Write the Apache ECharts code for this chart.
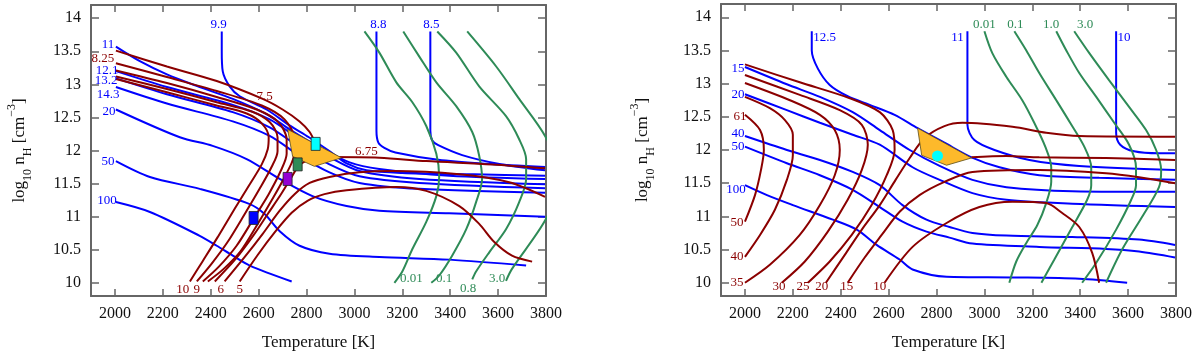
<!DOCTYPE html>
<html><head><meta charset="utf-8">
<script src="https://cdn.jsdelivr.net/npm/echarts@6/dist/echarts.min.js"></script>
<style>html,body{margin:0;padding:0;background:#fff}#c{width:1200px;height:356px}</style>
</head><body><div id="c"></div>
<script>
// ===== Data: points are [Temperature (K), log10 nH] =====
// ---- Left panel: blue contours ----
const L_b99  = [[2446,13.80],[2446,13.50],[2450,13.20],[2479,12.97],[2521,12.82],[2633,12.62],[2729,12.38],[2810,12.20],[2900,11.98],[2970,11.80],[3050,11.70],[3200,11.66],[3500,11.64],[3796,11.62]];
const L_b88  = [[3092,13.80],[3092,12.30],[3100,12.12],[3125,12.04],[3171,11.97],[3350,11.86],[3550,11.80],[3796,11.75]];
const L_b85  = [[3317,13.80],[3317,12.30],[3325,12.15],[3350,12.08],[3450,11.93],[3600,11.80],[3796,11.70]];
const L_b11  = [[2004,13.57],[2104,13.35],[2217,13.15],[2354,12.96],[2492,12.78],[2633,12.55],[2729,12.32],[2854,12.05],[2980,11.82],[3104,11.72],[3396,11.62],[3796,11.57]];
const L_b121 = [[2004,13.20],[2217,12.96],[2492,12.69],[2646,12.47],[2771,12.17],[2896,11.90],[3021,11.69],[3271,11.57],[3796,11.49]];
const L_b132 = [[2004,13.09],[2217,12.85],[2492,12.58],[2646,12.35],[2771,12.05],[2896,11.79],[3021,11.61],[3271,11.51],[3796,11.43]];
const L_b143 = [[2004,12.96],[2217,12.71],[2492,12.44],[2646,12.22],[2771,11.92],[2896,11.67],[3021,11.51],[3271,11.42],[3796,11.36]];
const L_b20  = [[2004,12.62],[2271,12.20],[2408,12.07],[2550,11.87],[2688,11.57],[2825,11.31],[2967,11.16],[3104,11.09],[3396,11.05],[3796,11.00]];
const L_b50  = [[2004,11.84],[2146,11.60],[2354,11.42],[2563,11.19],[2625,11.04],[2688,10.78],[2771,10.56],[2896,10.44],[3104,10.39],[3396,10.35],[3717,10.26]];
const L_b100 = [[2004,11.22],[2146,11.07],[2354,10.71],[2425,10.56],[2492,10.41],[2563,10.26],[2738,10.02]];
// ---- Left panel: green contours ----
const L_g001 = [[3042,13.80],[3104,13.48],[3175,13.03],[3242,12.73],[3300,12.37],[3342,11.95],[3354,11.60],[3342,11.31],[3300,10.92],[3242,10.51],[3200,10.17],[3167,10.00]];
const L_g01  = [[3204,13.80],[3271,13.42],[3342,13.03],[3425,12.67],[3492,12.28],[3521,11.92],[3533,11.57],[3508,11.22],[3467,10.81],[3408,10.41],[3354,10.11],[3321,10.00]];
const L_g08  = [[3346,13.80],[3425,13.48],[3521,12.97],[3633,12.52],[3688,12.17],[3717,11.87],[3717,11.57],[3688,11.22],[3633,10.81],[3563,10.46],[3508,10.17],[3492,10.05]];
const L_g30  = [[3471,13.80],[3592,13.27],[3688,12.78],[3796,12.22],[3870,11.60],[3796,10.94],[3658,10.21],[3633,10.03]];
// ---- Left panel: dark red contours ----
const L_r75  = [[2004,13.51],[2217,13.27],[2425,13.05],[2617,12.78],[2700,12.62],[2771,12.44],[2813,12.28],[2838,12.10]];
const L_rA   = [[2004,13.32],[2217,13.11],[2425,12.90],[2613,12.68],[2708,12.47],[2750,12.17],[2746,11.90],[2713,11.63],[2663,11.30],[2596,10.89],[2525,10.48],[2454,10.21],[2388,10.02]];
const L_rB   = [[2004,13.21],[2217,13.02],[2425,12.81],[2592,12.62],[2679,12.44],[2717,12.17],[2717,11.95],[2692,11.69],[2642,11.34],[2579,10.97],[2508,10.56],[2433,10.24],[2367,10.02]];
const L_rC   = [[2004,13.12],[2217,12.93],[2425,12.73],[2571,12.59],[2646,12.43],[2679,12.20],[2679,11.99],[2654,11.75],[2604,11.42],[2542,11.04],[2471,10.62],[2404,10.29],[2342,10.02]];
const L_rD   = [[2004,13.08],[2217,12.88],[2425,12.68],[2550,12.56],[2613,12.41],[2642,12.20],[2638,12.02],[2613,11.79],[2563,11.49],[2500,11.12],[2429,10.69],[2367,10.33],[2313,10.02]];
const L_r6   = [[2417,10.02],[2504,10.36],[2579,10.72],[2638,11.04],[2692,11.33],[2733,11.57],[2771,11.78],[2821,11.87],[2896,11.90],[3104,11.89],[3300,11.84],[3575,11.79],[3796,11.73]];
const L_rM   = [[2458,10.02],[2542,10.39],[2617,10.74],[2688,11.09],[2750,11.34],[2813,11.51],[2896,11.60],[3021,11.67],[3158,11.69],[3438,11.64],[3646,11.52],[3796,11.30]];
const L_r5   = [[2521,10.02],[2596,10.42],[2671,10.78],[2738,11.06],[2804,11.24],[2875,11.34],[2967,11.40],[3175,11.45],[3300,11.39],[3438,11.16],[3521,10.89],[3583,10.62],[3658,10.41],[3742,10.32]];
// ---- Left panel: region and observed points ----
const L_poly   = [[2721,12.32],[2946,11.89],[2833,11.76],[2742,11.91]];
const L_cyan   = [[2838,12.10]];
const L_green  = [[2763,11.79]];
const L_purple = [[2721,11.57]];
const L_blueSq = [[2579,10.98]];
// ---- Left panel: contour labels [T, logn, text] ----
const L_blueLabels  = [[2433,13.91,'9.9'],[3100,13.91,'8.8'],[3321,13.91,'8.5'],[1971,13.60,'11'],[1967,13.21,'12.1'],[1963,13.06,'13.2'],[1971,12.85,'14.3'],[1975,12.59,'20'],[1971,11.84,'50'],[1967,11.24,'100']];
const L_redLabels   = [[1950,13.39,'8.25'],[2625,12.81,'7.5'],[3050,11.99,'6.75'],[2283,9.89,'10'],[2342,9.89,'9'],[2442,9.89,'6'],[2521,9.89,'5']];
const L_greenLabels = [[3238,10.06,'0.01'],[3375,10.06,'0.1'],[3475,9.91,'0.8'],[3596,10.06,'3.0']];

// ---- Right panel: blue contours ----
const R_b10  = [[3550,13.79],[3550,12.26],[3567,12.08],[3625,11.98],[3729,11.95],[3796,11.95]];
const R_b11  = [[2929,13.79],[2929,12.38],[2958,12.15],[3042,12.00],[3188,11.85],[3396,11.76],[3796,11.70]];
const R_b125 = [[2279,13.79],[2279,13.50],[2304,13.23],[2354,12.98],[2429,12.81],[2521,12.68],[2625,12.53],[2721,12.33],[2833,12.11],[2946,11.89],[3063,11.74],[3229,11.62],[3479,11.58],[3796,11.55]];
const R_b15  = [[2000,13.25],[2175,12.99],[2313,12.80],[2450,12.57],[2563,12.30],[2688,12.00],[2813,11.76],[2950,11.55],[3092,11.44],[3367,11.38],[3796,11.37]];
const R_b20  = [[2000,12.84],[2175,12.60],[2313,12.41],[2450,12.23],[2563,12.08],[2700,11.74],[2813,11.55],[2950,11.35],[3092,11.25],[3367,11.19],[3796,11.14]];
const R_b40  = [[2000,12.21],[2175,12.00],[2313,11.85],[2450,11.67],[2563,11.47],[2658,11.17],[2758,10.95],[2854,10.84],[2950,10.75],[3092,10.71],[3367,10.69],[3646,10.65],[3796,10.57]];
const R_b50  = [[2000,12.05],[2175,11.80],[2313,11.62],[2450,11.40],[2563,11.14],[2658,10.92],[2758,10.77],[2854,10.68],[2950,10.59],[3229,10.54],[3508,10.51],[3646,10.47],[3796,10.38]];
const R_b100 = [[2000,11.47],[2092,11.32],[2200,11.17],[2367,10.95],[2467,10.80],[2550,10.57],[2646,10.35],[2700,10.20],[2842,10.09],[3117,10.08],[3396,10.06],[3596,10.00]];
// ---- Right panel: green contours ----
const R_g001 = [[3000,13.79],[3033,13.46],[3092,13.10],[3158,12.75],[3208,12.41],[3254,12.05],[3279,11.74],[3279,11.52],[3258,11.20],[3221,10.87],[3175,10.60],[3133,10.32],[3104,10.00]];
const R_g01  = [[3125,13.79],[3175,13.50],[3229,13.16],[3300,12.75],[3358,12.41],[3417,12.05],[3446,11.74],[3446,11.47],[3429,11.25],[3367,10.84],[3292,10.35],[3238,10.00]];
const R_g10  = [[3300,13.79],[3342,13.50],[3396,13.16],[3467,12.80],[3542,12.41],[3604,12.08],[3633,11.74],[3633,11.47],[3613,11.25],[3550,10.80],[3467,10.30],[3408,10.00]];
const R_g30  = [[3375,13.79],[3438,13.46],[3521,13.05],[3604,12.65],[3675,12.30],[3717,12.00],[3738,11.70],[3729,11.44],[3658,10.99],[3575,10.50],[3508,10.00]];
// ---- Right panel: dark red contours ----
const R_r61  = [[2000,12.53],[2063,12.30],[2079,12.00],[2067,11.70],[2042,11.32],[2000,10.92]];
const R_rC97 = [[2000,12.80],[2104,12.63],[2167,12.45],[2200,12.23],[2200,11.92],[2175,11.55],[2125,11.10],[2063,10.72],[2000,10.39]];
const R_rC83 = [[2000,13.01],[2188,12.75],[2313,12.53],[2375,12.30],[2396,12.00],[2375,11.62],[2313,11.17],[2229,10.72],[2104,10.27],[2000,10.00]];
const R_rC75 = [[2000,13.13],[2229,12.83],[2396,12.60],[2488,12.38],[2513,12.08],[2488,11.70],[2429,11.25],[2346,10.77],[2250,10.32],[2154,10.00]];
const R_rC64 = [[2000,13.29],[2229,13.02],[2438,12.78],[2563,12.57],[2617,12.30],[2625,12.00],[2592,11.62],[2529,11.17],[2446,10.72],[2354,10.32],[2263,10.00]];
const R_r20  = [[2338,10.00],[2417,10.42],[2488,10.80],[2563,11.17],[2629,11.55],[2688,11.88],[2750,12.18],[2833,12.36],[2908,12.41],[3117,12.35],[3258,12.26],[3396,12.21],[3796,12.20]];
const R_rTip = [[2946,11.89],[3092,11.91],[3229,11.89],[3508,11.88],[3796,11.85]];
const R_r15  = [[2429,10.00],[2500,10.38],[2571,10.72],[2646,11.07],[2729,11.32],[2833,11.52],[2950,11.67],[3229,11.70],[3508,11.65],[3646,11.59],[3796,11.50]];
const R_r10  = [[2583,10.00],[2700,10.54],[2842,10.90],[2979,11.14],[3117,11.22],[3258,11.20],[3325,11.05],[3396,10.84],[3450,10.45],[3479,10.00]];
// ---- Right panel: region and observed point ----
const R_poly   = [[2721,12.33],[2946,11.88],[2842,11.77],[2738,11.92]];
const R_circle = [[2804,11.91]];
// ---- Right panel: contour labels ----
const R_blueLabels  = [[2333,13.70,'12.5'],[1971,13.23,'15'],[1971,12.84,'20'],[1971,12.24,'40'],[1971,12.05,'50'],[1963,11.40,'100'],[2888,13.70,'11'],[3583,13.70,'10']];
const R_greenLabels = [[3000,13.89,'0.01'],[3129,13.89,'0.1'],[3279,13.89,'1.0'],[3421,13.89,'3.0']];
const R_redLabels   = [[1979,12.50,'61'],[1967,10.90,'50'],[1967,10.39,'40'],[1967,10.00,'35'],[2142,9.94,'30'],[2242,9.94,'25'],[2321,9.94,'20'],[2425,9.94,'15'],[2563,9.94,'10']];

// ---- Axis ranges ----
const X_MIN = 1900, X_MAX = 3800, Y_MIN = 9.8, Y_MAX = 14.2;

// ===== Chart =====
const SERIF = '"Liberation Serif","DejaVu Serif",serif';
const BLUE = '#0000ff', RED = '#8b0000', GREEN = '#2e8b57', AX = '#666';

function xAx(gi, pos, main) {
  return {
    type: 'value', gridIndex: gi, position: pos, min: X_MIN, max: X_MAX,
    splitNumber: 9, minInterval: 200, maxInterval: 200,
    axisLine: { show: true, onZero: false, lineStyle: { color: AX, width: 2 } },
    axisTick: { show: true, inside: true, length: 7, lineStyle: { color: AX, width: 1.5 } },
    axisLabel: { show: main, showMinLabel: false, margin: 10, color: '#111', fontFamily: SERIF, fontSize: 16,
      formatter: v => String(v) },
    splitLine: { show: false },
    name: main ? 'Temperature [K]' : '', nameLocation: 'middle', nameGap: 38,
    nameTextStyle: { fontFamily: SERIF, fontSize: 17, color: '#111' }
  };
}
function yAx(gi, pos, main, gap) {
  return {
    type: 'value', gridIndex: gi, position: pos, min: Y_MIN, max: Y_MAX,
    splitNumber: 9, minInterval: 0.5, maxInterval: 0.5,
    axisLine: { show: true, onZero: false, lineStyle: { color: AX, width: 2 } },
    axisTick: { show: true, inside: true, length: 8, lineStyle: { color: AX, width: 1.5 } },
    axisLabel: { show: main, showMinLabel: false, showMaxLabel: false, margin: 10, color: '#111', fontFamily: SERIF, fontSize: 16,
      formatter: v => String(v) },
    splitLine: { show: false },
    name: main ? 'log{sub|10} n{sub|H} [cm{sup|−3}]' : '', nameLocation: 'middle', nameRotate: 90, nameGap: gap,
    nameTextStyle: {
      fontFamily: SERIF, fontSize: 17, color: '#111', lineHeight: 28,
      rich: {
        sub: { fontFamily: SERIF, fontSize: 12, color: '#111', lineHeight: 12, verticalAlign: 'bottom' },
        sup: { fontFamily: SERIF, fontSize: 12, color: '#111', lineHeight: 12, verticalAlign: 'top' }
      }
    }
  };
}

function line(data, color, gi) {
  return { type: 'line', xAxisIndex: gi * 2, yAxisIndex: gi * 2, data: data, symbol: 'none', showSymbol: false,
    smooth: 0.3, clip: true, lineStyle: { color: color, width: 2 }, z: 2, silent: true };
}
function labels(arr, color, gi) {
  return { type: 'scatter', xAxisIndex: gi * 2, yAxisIndex: gi * 2, symbolSize: 1, clip: false,
    itemStyle: { color: 'rgba(0,0,0,0)' },
    data: arr.map(d => ({ value: [d[0], d[1]], name: d[2] })),
    label: { show: true, position: 'inside', formatter: p => p.name, color: color, opacity: 1,
      textBorderWidth: 0, textBorderColor: 'transparent', textShadowBlur: 0,
      fontFamily: SERIF, fontSize: 13 },
    z: 6, silent: true };
}
function poly(pts, gi) {
  return { type: 'custom', xAxisIndex: gi * 2, yAxisIndex: gi * 2, data: pts, z: 3, silent: true,
    renderItem: (params, api) => params.dataIndex === 0 ? {
      type: 'polygon', shape: { points: pts.map(p => api.coord(p)) },
      style: { fill: '#fdb92b', stroke: '#5a4a14', lineWidth: 0.8 } } : null };
}
function marker(pts, gi, symbol, size, color, border) {
  return { type: 'scatter', xAxisIndex: gi * 2, yAxisIndex: gi * 2, data: pts, symbol: symbol, symbolSize: size,
    itemStyle: { color: color, borderColor: border ? '#222' : color, borderWidth: border ? 0.8 : 0, opacity: 1 }, z: 4, silent: true };
}

const series = [];
[L_b99, L_b88, L_b85, L_b11, L_b121, L_b132, L_b143, L_b20, L_b50, L_b100].forEach(d => series.push(line(d, BLUE, 0)));
[L_g001, L_g01, L_g08, L_g30].forEach(d => series.push(line(d, GREEN, 0)));
[L_r75, L_rA, L_rB, L_rC, L_rD, L_r6, L_rM, L_r5].forEach(d => series.push(line(d, RED, 0)));
series.push(poly(L_poly, 0));
series.push(marker(L_cyan, 0, 'rect', [9, 13], '#00ffff', true));
series.push(marker(L_green, 0, 'rect', [9, 13], '#2e8b57', true));
series.push(marker(L_purple, 0, 'rect', [9, 13], '#9400d3', true));
series.push(marker(L_blueSq, 0, 'rect', [9, 13], '#0000ff', true));
series.push(labels(L_blueLabels, BLUE, 0));
series.push(labels(L_redLabels, RED, 0));
series.push(labels(L_greenLabels, GREEN, 0));

[R_b10, R_b11, R_b125, R_b15, R_b20, R_b40, R_b50, R_b100].forEach(d => series.push(line(d, BLUE, 1)));
[R_g001, R_g01, R_g10, R_g30].forEach(d => series.push(line(d, GREEN, 1)));
[R_r61, R_rC97, R_rC83, R_rC75, R_rC64, R_r20, R_rTip, R_r15, R_r10].forEach(d => series.push(line(d, RED, 1)));
series.push(poly(R_poly, 1));
series.push(marker(R_circle, 1, 'circle', 11, '#00ffff', false));
series.push(labels(R_blueLabels, BLUE, 1));
series.push(labels(R_redLabels, RED, 1));
series.push(labels(R_greenLabels, GREEN, 1));

const chart = echarts.init(document.getElementById('c'), null, { renderer: 'canvas' });
chart.setOption({
  animation: false,
  backgroundColor: '#fff',
  grid: [
    { left: 91, top: 5, width: 455, height: 292 },
    { left: 721, top: 4, width: 455, height: 292 }
  ],
  xAxis: [xAx(0, 'bottom', true), xAx(0, 'top', false), xAx(1, 'bottom', true), xAx(1, 'top', false)],
  yAxis: [yAx(0, 'left', true, 57), yAx(0, 'right', false, 0), yAx(1, 'left', true, 64), yAx(1, 'right', false, 0)],
  series: series
});
</script></body></html>
